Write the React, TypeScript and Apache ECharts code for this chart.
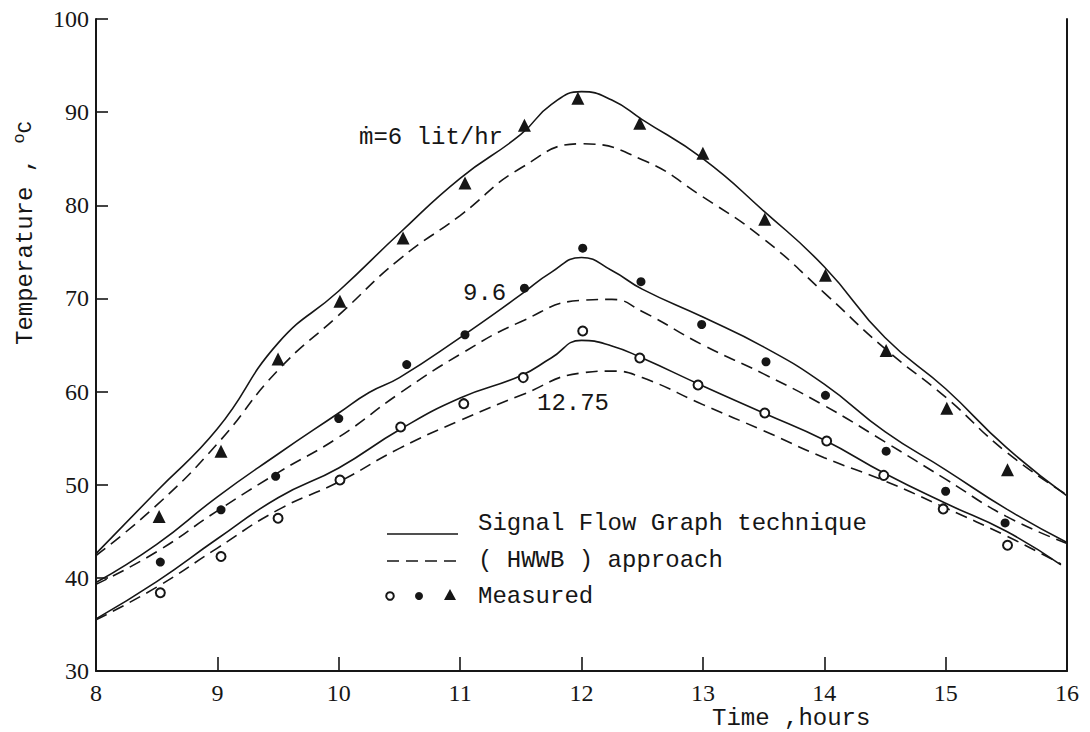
import React, { useEffect, useRef } from "react";
import * as echarts from "echarts";

// Time (hours) vs Temperature (°C)
const xTicks = [8, 9, 10, 11, 12, 13, 14, 15, 16];
const yTicks = [30, 40, 50, 60, 70, 80, 90, 100];

// m = 6 lit/hr
const sfg6 = [[8,42.6],[8.5,49.3],[9,56.0],[9.5,65.2],[10,70.8],[10.5,77.0],[11,82.9],[11.5,87.6],[11.75,90.8],[12,92.2],[12.25,91.3],[12.5,89.2],[13,85.0],[13.5,79.4],[14,73.4],[14.5,65.8],[15,60.3],[15.5,54.0],[16,48.8]];
const hwwb6 = [[8,42.4],[8.5,47.8],[9,54.4],[9.5,62.3],[10,68.2],[10.5,74.2],[11,78.9],[11.5,84.0],[12,86.6],[12.5,84.9],[13,80.9],[13.5,76.4],[14,70.6],[14.5,64.6],[15,59.4],[15.5,53.5],[16,48.9]];
const meas6 = [[8.52,46.6],[9.03,53.6],[9.5,63.5],[10.01,69.7],[10.53,76.5],[11.04,82.4],[11.53,88.6],[11.97,91.5],[12.48,88.8],[13.0,85.6],[13.51,78.5],[14.01,72.5],[14.51,64.4],[15.01,58.2],[15.51,51.6]];

// m = 9.6 lit/hr
const sfg96 = [[8,39.5],[8.5,43.6],[9,48.7],[9.5,53.3],[10,57.7],[10.25,59.9],[10.5,61.5],[11,65.8],[11.5,70.4],[11.75,72.8],[12,74.4],[12.25,73.0],[12.5,71.0],[13,68.0],[13.5,64.8],[14,60.8],[14.5,55.7],[15,51.6],[15.5,47.4],[16,43.8]];
const hwwb96 = [[8,39.3],[8.5,42.8],[9,47.2],[9.5,51.3],[10,55.1],[10.5,59.8],[11,64.0],[11.5,67.5],[12,69.8],[12.25,69.9],[12.5,68.6],[13,65.0],[13.5,61.9],[14,58.5],[14.5,54.6],[15,50.6],[15.5,46.6],[16,43.7]];
const meas96 = [[8.53,41.7],[9.03,47.3],[9.48,50.9],[10.0,57.1],[10.56,62.9],[11.04,66.1],[11.53,71.1],[12.01,75.4],[12.49,71.8],[12.99,67.2],[13.52,63.2],[14.01,59.6],[14.51,53.6],[15.0,49.3],[15.49,45.9]];

// m = 12.75 lit/hr
const sfg1275 = [[8,35.6],[8.5,39.6],[9,44.2],[9.5,48.6],[10,51.8],[10.5,55.9],[11,59.3],[11.5,61.7],[11.75,63.6],[12,65.5],[12.25,64.9],[12.5,63.6],[13,60.6],[13.5,57.7],[14,54.8],[14.5,51.2],[15,48.0],[15.5,45.0],[15.95,41.4]];
const hwwb1275 = [[8,35.5],[8.5,39.0],[9,43.2],[9.5,47.3],[10,50.3],[10.5,53.9],[11,56.9],[11.5,59.6],[12,62.0],[12.25,62.2],[12.5,61.5],[13,58.6],[13.5,55.8],[14,52.9],[14.5,50.4],[15,47.5],[15.5,44.5],[15.95,41.5]];
const meas1275 = [[8.53,38.4],[9.03,42.3],[9.5,46.4],[10.01,50.5],[10.51,56.2],[11.03,58.7],[11.52,61.5],[12.01,66.5],[12.48,63.6],[12.96,60.7],[13.51,57.7],[14.02,54.7],[14.49,51.0],[14.98,47.4],[15.51,43.5]];

const INK = "#161616";
const MONO = "'Liberation Mono', 'DejaVu Sans Mono', monospace";
const SERIF = "'Liberation Serif', 'DejaVu Serif', serif";
const DASH = [12, 7];

function solid(data: number[][]) {
  return {
    type: "line", data, smooth: 0.5, symbol: "none",
    lineStyle: { color: INK, width: 1.6 }, z: 2,
  };
}
function dashed(data: number[][]) {
  return {
    type: "line", data, smooth: 0.5, symbol: "none",
    lineStyle: { color: INK, width: 1.6, type: DASH }, z: 2,
  };
}

export default function App() {
  const ref = useRef<HTMLDivElement>(null);
  useEffect(() => {
    if (!ref.current) return;
    const chart = echarts.init(ref.current, null, { renderer: "svg" });
    const option = {
      animation: false,
      backgroundColor: "#ffffff",
      grid: { left: 96, right: 23, top: 19, bottom: 61, containLabel: false },
      xAxis: {
        type: "value", min: xTicks[0], max: xTicks[xTicks.length - 1], interval: 1,
        axisLine: { show: true, lineStyle: { color: INK, width: 2 } },
        axisTick: { show: true, inside: true, length: 14, lineStyle: { color: INK, width: 1.6 } },
        axisLabel: { color: INK, fontFamily: SERIF, fontSize: 24, margin: 10 },
        splitLine: { show: false },
      },
      yAxis: [
        {
          type: "value", min: yTicks[0], max: yTicks[yTicks.length - 1], interval: 10,
          axisLine: { show: true, lineStyle: { color: INK, width: 2 } },
          axisTick: { show: true, inside: true, length: 12, lineStyle: { color: INK, width: 1.6 } },
          axisLabel: { color: INK, fontFamily: SERIF, fontSize: 24, margin: 7 },
          splitLine: { show: false },
        },
        {
          type: "value", min: yTicks[0], max: yTicks[yTicks.length - 1], position: "right",
          axisLine: { show: true, lineStyle: { color: INK, width: 2 } },
          axisTick: { show: false }, axisLabel: { show: false }, splitLine: { show: false },
        },
      ],
      series: [
        solid(sfg6), dashed(hwwb6),
        solid(sfg96), dashed(hwwb96),
        solid(sfg1275), dashed(hwwb1275),
        { type: "scatter", data: meas6, symbol: "triangle", symbolSize: 13, itemStyle: { color: INK, opacity: 1 }, z: 3 },
        { type: "scatter", data: meas96, symbol: "circle", symbolSize: 9, itemStyle: { color: INK, opacity: 1 }, z: 3 },
        { type: "scatter", data: meas1275, symbol: "circle", symbolSize: 9,
          itemStyle: { color: "#ffffff", borderColor: INK, borderWidth: 2, opacity: 1 }, z: 3 },
      ],
      graphic: [
        // annotations
        { type: "text", x: 359, y: 137, style: { text: "ṁ=6 lit/hr", font: `24px ${MONO}`, fill: INK, textVerticalAlign: "middle" } },
        { type: "text", x: 463, y: 293, style: { text: "9.6", font: `24px ${MONO}`, fill: INK, textVerticalAlign: "middle" } },
        { type: "text", x: 537, y: 403, style: { text: "12.75", font: `24px ${MONO}`, fill: INK, textVerticalAlign: "middle" } },
        // legend
        { type: "line", shape: { x1: 387, y1: 534, x2: 458, y2: 534 }, style: { stroke: INK, lineWidth: 1.6 } },
        { type: "text", x: 478, y: 523, style: { text: "Signal Flow Graph technique", font: `24px ${MONO}`, fill: INK, textVerticalAlign: "middle" } },
        { type: "line", shape: { x1: 387, y1: 561, x2: 458, y2: 561 }, style: { stroke: INK, lineWidth: 1.6, lineDash: [12, 7] } },
        { type: "text", x: 478, y: 560, style: { text: "( HWWB ) approach", font: `24px ${MONO}`, fill: INK, textVerticalAlign: "middle" } },
        { type: "circle", shape: { cx: 390, cy: 596, r: 3.8 }, style: { fill: "#ffffff", stroke: INK, lineWidth: 2 } },
        { type: "circle", shape: { cx: 419, cy: 596, r: 4 }, style: { fill: INK } },
        { type: "polygon", shape: { points: [[450, 589], [456, 600], [444, 600]] }, style: { fill: INK } },
        { type: "text", x: 478, y: 596, style: { text: "Measured", font: `24px ${MONO}`, fill: INK, textVerticalAlign: "middle" } },
        // axis names
        { type: "text", x: 712, y: 718, style: { text: "Time ,hours", font: `24px ${MONO}`, fill: INK, textVerticalAlign: "middle" } },
        {
          type: "text", x: 25, y: 345, rotation: Math.PI / 2,
          style: {
            text: "{t|Temperature , }{o|o}{c|C}",
            fill: INK, textVerticalAlign: "middle", textAlign: "left",
            rich: {
              t: { font: `24px ${MONO}`, fill: INK },
              o: { font: `17px ${MONO}`, fill: INK, padding: [0, 0, 12, 0] },
              c: { font: `20px ${MONO}`, fill: INK },
            },
          },
        },
      ],
    };
    chart.setOption(option as any);
    return () => chart.dispose();
  }, []);
  return (
    <div
      ref={ref}
      style={{ position: "fixed", left: 0, top: 0, width: 1090, height: 732, background: "#fff" }}
    />
  );
}
